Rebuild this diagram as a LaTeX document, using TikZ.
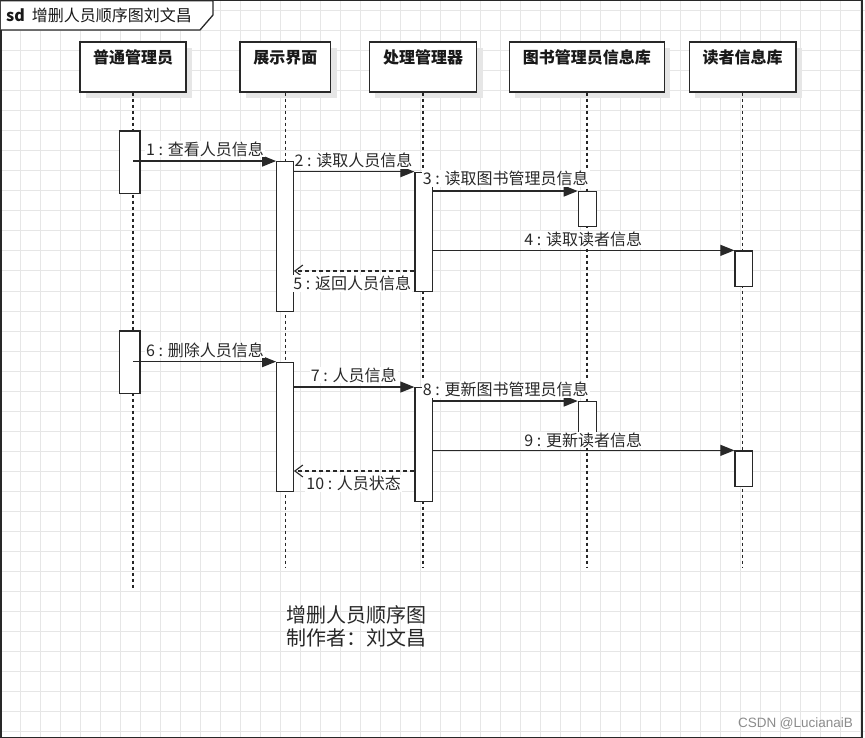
\documentclass[tikz,border=0pt]{standalone}
\usepackage{fontspec}
\setmainfont{Noto Sans CJK SC}
\newfontfamily\wmfont{Liberation Sans}
\usetikzlibrary{arrows.meta,shadows}
\definecolor{ink}{RGB}{40,40,40}
\definecolor{gridc}{RGB}{230,230,230}
\definecolor{shadowc}{RGB}{230,230,230}
\tikzset{
  gridline/.style={draw=gridc, line width=1pt},
  hdr/.style={draw=ink, line width=1.3pt, fill=white, inner sep=0pt,
    minimum height=50pt, text height=21.5pt, text depth=28.5pt,
    font=\bfseries\fontsize{16}{18}\selectfont, text=black!90,
    drop shadow={shadow xshift=6pt, shadow yshift=-6pt, fill=shadowc, opacity=1}},
  act/.style={draw=ink, line width=1.3pt, fill=white, inner sep=0pt},
  life/.style={draw=black!85, line width=1.5pt, dash pattern=on 3pt off 3pt},
  msg/.style={draw=ink, line width=1.2pt, -{Triangle[length=14pt,width=11pt]}},
  ret/.style={draw=ink, line width=1.2pt, dash pattern=on 4pt off 3pt,
    -{Straight Barb[length=8pt,width=12pt,line width=1.1pt]}},
  lbl/.style={font=\fontsize{16}{18}\selectfont, text=ink, fill=white, inner sep=1pt},
  note/.style={font=\fontsize{20}{23}\selectfont, text=ink, inner sep=0pt, anchor=base west},
}
\begin{document}
\begin{tikzpicture}[x=1pt, y=-1pt]
\useasboundingbox (0,0) rectangle (865,738);
\fill[white] (0,0) rectangle (865,738);
% grid
\foreach \i in {20,40,...,860} \draw[gridline] (\i,0) -- (\i,738);
\foreach \j in {11,31,...,731} \draw[gridline] (0,\j) -- (865,\j);
% frame
\draw[ink, line width=1.5pt] (0.75,0.75) rectangle (862,737.25);
\draw[ink, line width=1.3pt, fill=white] (0.75,0.75) -- (213,0.75) -- (213,15) -- (200,30) -- (0.75,30);
\node[anchor=west, inner sep=0pt, font=\fontsize{16}{18}\selectfont, text=black!90] (title) at (6,15)
  {\textbf{sd}\hspace{7pt}增删人员顺序图刘文昌};

% headers
\node[hdr, minimum width=106pt]   (h1) at (133,67)   {普通管理员};
\node[hdr, minimum width=90.7pt]  (h2) at (285.3,67) {展示界面};
\node[hdr, minimum width=107.4pt] (h3) at (423,67)   {处理管理器};
\node[hdr, minimum width=155pt]   (h4) at (586.8,67) {图书管理员信息库};
\node[hdr, minimum width=106.7pt] (h5) at (742.7,67) {读者信息库};

% lifelines
\coordinate (e1) at (0,590);
\coordinate (e2) at (0,568);
\draw[life] (h1.south) -- (h1.south |- e1);
\draw[life] (h2.south) -- (h2.south |- e2);
\draw[life] (h3.south) -- (h3.south |- e2);
\draw[life] (h4.south) -- (h4.south |- e2);
\draw[life] (h5.south) -- (h5.south |- e2);

% activations, first group
\node[act, minimum width=20.7pt, minimum height=62.7pt] (a1) at (129.65,162.35) {};
\node[act, minimum width=16.6pt, minimum height=150pt]  (a2) at (285,236.7) {};
\node[act, minimum width=17.7pt, minimum height=119.4pt] (a3) at (423.85,232) {};
\node[act, minimum width=18.4pt, minimum height=35pt]   (a4) at (587.5,209.2) {};
\node[act, minimum width=17.3pt, minimum height=35.7pt] (a5) at (743.65,268.85) {};
% activations, second group
\node[act, minimum width=20.7pt, minimum height=62.7pt] (b1) at (129.65,362.35) {};
\node[act, minimum width=16.6pt, minimum height=129.4pt] (b2) at (285,427) {};
\node[act, minimum width=17.7pt, minimum height=114pt]  (b3) at (423.85,444.7) {};
\node[act, minimum width=18.4pt, minimum height=35pt]   (b4) at (587.5,419.2) {};
\node[act, minimum width=17.3pt, minimum height=35.7pt] (b5) at (743.65,468.85) {};

% messages, first group
\draw[msg] (h1.south |- a2.north west) -- (a2.north west);
\draw[msg] (a2.north east |- a3.north west) -- (a3.north west);
\draw[msg] (a3.east |- a4.north west) -- (a4.north west);
\draw[msg] (a3.east |- a5.north west) -- (a5.north west);
\coordinate (r5) at (0,271);
\draw[ret] (a3.west |- r5) -- (a2.east |- r5);
% messages, second group
\draw[msg] (h1.south |- b2.north west) -- (b2.north west);
\draw[msg] (b2.north east |- b3.north west) -- (b3.north west);
\draw[msg] (b3.east |- b4.north west) -- (b4.north west);
\draw[msg] (b3.east |- b5.north west) -- (b5.north west);
\coordinate (r10) at (0,471);
\draw[ret] (b3.west |- r10) -- (b2.east |- r10);

% labels
\node[lbl] (l1)  at (205,149)     {1 : 查看人员信息};
\node[lbl] (l2)  at (353.5,160.7) {2 : 读取人员信息};
\node[lbl] (l3)  at (505.8,178.3) {3 : 读取图书管理员信息};
\node[lbl] (l4)  at (583.3,239.3) {4 : 读取读者信息};
\node[lbl] (l5)  at (352.3,283.3) {5 : 返回人员信息};
\node[lbl] (l6)  at (205,350)     {6 : 删除人员信息};
\node[lbl] (l7)  at (353.7,375)   {7 : 人员信息};
\node[lbl] (l8)  at (505.8,389.3) {8 : 更新图书管理员信息};
\node[lbl] (l9)  at (583.3,440)   {9 : 更新读者信息};
\node[lbl] (l10) at (353.7,483.3) {10 : 人员状态};

% note
\node[note] (n1) at (286.7,622) {增删人员顺序图};
\node[note] (n2) at (286.7,645.3) {制作者：刘文昌};

% watermark
\node[inner sep=0pt, font=\wmfont\fontsize{13.5}{15}\selectfont, text=black!45] (wm) at (795.5,723.3) {CSDN @LucianaiB};
\end{tikzpicture}
\end{document}
